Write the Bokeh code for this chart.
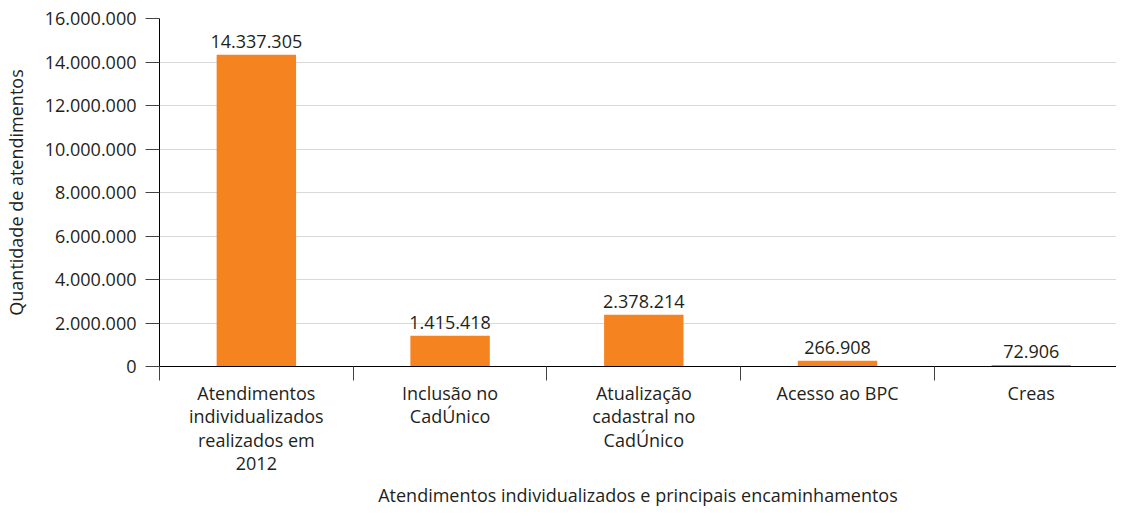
from bokeh.plotting import figure
from bokeh.models import ColumnDataSource, LabelSet, Range1d, FixedTicker
from bokeh.core.properties import value
from bokeh.embed import file_html
from bokeh.resources import INLINE

categories = [
    "Atendimentos\nindividualizados\nrealizados em\n2012",
    "Inclusão no\nCadÚnico",
    "Atualização\ncadastral no\nCadÚnico",
    "Acesso ao BPC",
    "Creas",
]
values = [14337305, 1415418, 2378214, 266908, 72906]
y_ticks = [0, 2000000, 4000000, 6000000, 8000000, 10000000, 12000000, 14000000, 16000000]
y_label = "Quantidade de atendimentos"
x_label = "Atendimentos individualizados e principais encaminhamentos"

FONT = "Open Sans"
TEXT = "#231f20"
ORANGE = "#f58420"


def br(n):
    return f"{n:,}".replace(",", ".")


xs = [i + 0.5 for i in range(len(categories))]
bounds = list(range(len(categories)))
src = ColumnDataSource(dict(
    x=xs,
    top=values,
    vlab=[br(v) for v in values],
))

p = figure(
    width=1116, height=512,
    x_range=Range1d(0, 4.94), y_range=Range1d(0, 16000000),
    output_backend="svg", toolbar_location=None,
    min_border_left=158, min_border_right=0, min_border_top=18, min_border_bottom=146,
)
p.outline_line_color = None
p.xgrid.grid_line_color = None
p.ygrid.grid_line_color = "#d9d9d9"
p.ygrid.ticker = FixedTicker(ticks=y_ticks)

p.vbar(x="x", top="top", width=0.41, source=src, fill_color=ORANGE, line_color=None)

# y axis
ya = p.yaxis[0]
ya.ticker = FixedTicker(ticks=y_ticks)
ya.major_label_overrides = {t: br(t) for t in y_ticks}
ya.axis_line_color = "black"
ya.major_tick_out = 14
ya.major_tick_in = 0
ya.major_tick_line_color = "#444444"
ya.minor_tick_line_color = None
ya.major_label_standoff = 9
ya.major_label_text_font = FONT
ya.major_label_text_font_size = "18px"
ya.major_label_text_color = TEXT
ya.axis_label = y_label
ya.axis_label_text_font = FONT
ya.axis_label_text_font_size = "18px"
ya.axis_label_text_font_style = "normal"
ya.axis_label_text_color = TEXT
ya.axis_label_standoff = 14

# x axis: labels at category centres, boundary marks as minor ticks
xa = p.xaxis[0]
xa.ticker = FixedTicker(ticks=xs, minor_ticks=bounds)
xa.major_label_overrides = {x: c for x, c in zip(xs, categories)}
xa.axis_line_color = "black"
xa.major_tick_out = 14
xa.major_tick_in = 0
xa.major_tick_line_color = None
xa.minor_tick_out = 14
xa.minor_tick_in = 0
xa.minor_tick_line_color = "#444444"
xa.major_label_standoff = 0
xa.major_label_text_font = FONT
xa.major_label_text_font_size = "18px"
xa.major_label_text_color = TEXT
xa.major_label_text_line_height = 0.98
xa.axis_label = x_label
xa.axis_label_text_font = FONT
xa.axis_label_text_font_size = "18px"
xa.axis_label_text_font_style = "normal"
xa.axis_label_text_color = TEXT
xa.axis_label_standoff = 5

vl = LabelSet(x="x", y="top", text="vlab", source=src, text_align="center",
              text_baseline="bottom", y_offset=7, text_font=value(FONT),
              text_font_size="18px", text_color=TEXT)
p.add_layout(vl)

open("out.html", "w").write(file_html(p, INLINE))
